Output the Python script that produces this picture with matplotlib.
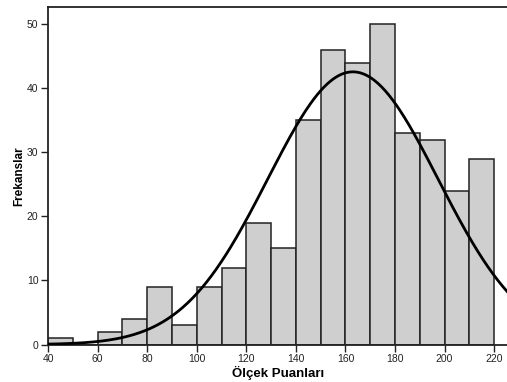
import numpy as np
import matplotlib.pyplot as plt

# Histogram bins and counts
bin_edges = [40, 50, 60, 70, 80, 90, 100, 110, 120, 130, 140, 150, 160, 170, 180, 190, 200, 210, 220]
counts = [1, 0, 2, 4, 9, 3, 9, 12, 19, 15, 35, 46, 44, 50, 33, 32, 24, 29]

# Fitted normal curve
mean = 163.0
sd = 34.4

x_ticks = [40, 60, 80, 100, 120, 140, 160, 180, 200, 220]
y_ticks = [0, 10, 20, 30, 40, 50]

plt.rcParams['font.family'] = ['Liberation Sans', 'DejaVu Sans']

fig = plt.figure(figsize=(5.07, 3.82), dpi=100)
ax = fig.add_axes([0.095, 0.098, 0.905, 0.884])

lefts = np.array(bin_edges[:-1])
widths = np.diff(bin_edges)
ax.bar(lefts, counts, width=widths, align='edge', color='#cfcfcf',
       edgecolor='#222222', linewidth=1.1, zorder=2)

n_total = sum(counts)
bw = widths[0]
xs = np.linspace(38, 230, 400)
ys = n_total * bw / (sd * np.sqrt(2 * np.pi)) * np.exp(-(xs - mean) ** 2 / (2 * sd ** 2))
ax.plot(xs, ys, color='black', linewidth=2, zorder=3)

ax.set_xlim(40, 225.2)
ax.set_ylim(0, 52.7)
ax.set_xticks(x_ticks)
ax.set_yticks(y_ticks)
ax.tick_params(direction='out', length=5, width=1, labelsize=7.5, colors='#222222', pad=2)
for s in ['left', 'bottom', 'top']:
    ax.spines[s].set_linewidth(1.3)
    ax.spines[s].set_color('#222222')
ax.spines['right'].set_visible(False)

ax.set_xlabel('Ölçek Puanları', fontsize=9.5, fontweight='bold', labelpad=1)
ax.set_ylabel('Frekanslar', fontsize=8.5, fontweight='bold', labelpad=1)

fig.savefig('out.png', dpi=100)
